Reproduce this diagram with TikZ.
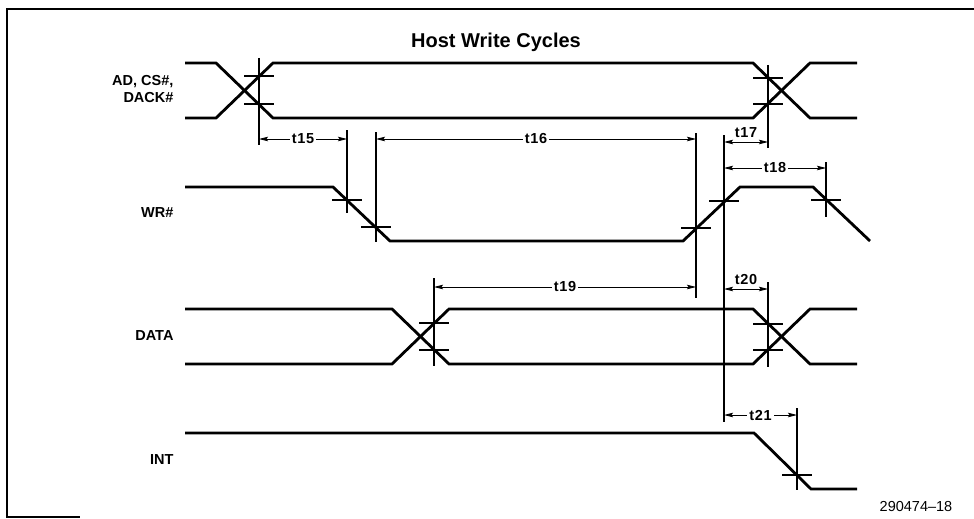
\documentclass[tikz,border=0pt]{standalone}
\usepackage{fontspec}
\setmainfont{Liberation Sans}
\newfontfamily\dimfont[LetterSpace=5]{Liberation Sans}
\usetikzlibrary{arrows.meta}

\begin{document}
\begin{tikzpicture}[x=1pt, y=-1pt, >={Stealth[length=9pt,width=4.5pt,inset=1.5pt]},
	sigline/.style={line width=2.8pt},
	guide/.style={line width=1.1pt},
	edgemark/.style={line width=1.1pt},
	dimline/.style={line width=0.9pt, <->},
	dimtext/.style={fill=white, inner sep=2pt, font=\dimfont\bfseries\fontsize{14.5}{14.5}\selectfont},
	signame/.style={anchor=east, align=right, font=\bfseries\fontsize{14.5}{17}\selectfont}]
	\useasboundingbox (0,0) rectangle (974,519);
	\draw[line width=1.2pt] (974,9) -- (7,9) -- (7,517) -- (80,517);
	\node (title) at (496,42) {\fontsize{20}{20}\selectfont\bfseries Host Write Cycles};
	\node[signame] (lad) at (177,89) {AD, CS\#,\\DACK\#};
	\node[signame] (lwr) at (177,213) {WR\#};
	\node[signame] (ldata) at (177,336) {DATA};
	\node[signame] (lint) at (177,460) {INT};
	\node (fig) at (916,507) {\fontsize{14.5}{15}\selectfont 290474--18};
	\draw[sigline] (185,63) -- (216,63) -- (273,118) -- (753,118) -- (810,63) -- (857,63);
	\draw[sigline] (185,118) -- (216,118) -- (273,63) -- (753,63) -- (810,118) -- (857,118);
	\draw[sigline] (185,187) -- (333,187) -- (390,241) -- (683,241) -- (740,187) -- (813,187) -- (870,241);
	\draw[sigline] (185,309) -- (392,309) -- (449,364) -- (753,364) -- (810,309) -- (857,309);
	\draw[sigline] (185,364) -- (392,364) -- (449,309) -- (753,309) -- (810,364) -- (857,364);
	\draw[sigline] (185,433) -- (754,433) -- (811,489) -- (857,489);
	\draw[guide] (259,58) coordinate (gA) -- (259,145);
	\draw[guide] (347,130) coordinate (gB) -- (347,213);
	\draw[guide] (376,132) coordinate (gC) -- (376,242);
	\draw[guide] (696,133) coordinate (gD) -- (696,298);
	\draw[guide] (724,135) coordinate (gE) -- (724,422);
	\draw[guide] (768,65) coordinate (gF) -- (768,148);
	\draw[guide] (826,162) coordinate (gG) -- (826,217);
	\draw[guide] (434,278) coordinate (gH) -- (434,366);
	\draw[guide] (768,282) coordinate (gI) -- (768,367);
	\draw[guide] (797,408) coordinate (gJ) -- (797,490);
	\draw[edgemark] (244,76) -- (274,76);
	\draw[edgemark] (244,104) -- (274,104);
	\draw[edgemark] (753,78) -- (783,78);
	\draw[edgemark] (753,104) -- (783,104);
	\draw[edgemark] (332,200) -- (362,200);
	\draw[edgemark] (361,227) -- (391,227);
	\draw[edgemark] (681,228) -- (711,228);
	\draw[edgemark] (709,201) -- (739,201);
	\draw[edgemark] (811,200) -- (841,200);
	\draw[edgemark] (419,323) -- (449,323);
	\draw[edgemark] (419,350) -- (449,350);
	\draw[edgemark] (753,324) -- (783,324);
	\draw[edgemark] (753,350) -- (783,350);
	\draw[edgemark] (782,475) -- (812,475);
	\draw[dimline] (gA |- 0,139) -- node[dimtext] (t15) {t15} (gB |- 0,139);
	\draw[dimline] (gC |- 0,139) -- node[dimtext] (t16) {t16} (gD |- 0,139);
	\draw[dimline] (gE |- 0,142) -- node[dimtext, fill=none, above=2pt] (t17) {t17} (gF |- 0,142);
	\draw[dimline] (gE |- 0,168) -- node[dimtext] (t18) {t18} (gG |- 0,168);
	\draw[dimline] (gH |- 0,287) -- node[dimtext] (t19) {t19} (gD |- 0,287);
	\draw[dimline] (gE |- 0,289) -- node[dimtext, fill=none, above=2pt] (t20) {t20} (gI |- 0,289);
	\draw[dimline] (gE |- 0,415) -- node[dimtext] (t21) {t21} (gJ |- 0,415);
\end{tikzpicture}
\end{document}
